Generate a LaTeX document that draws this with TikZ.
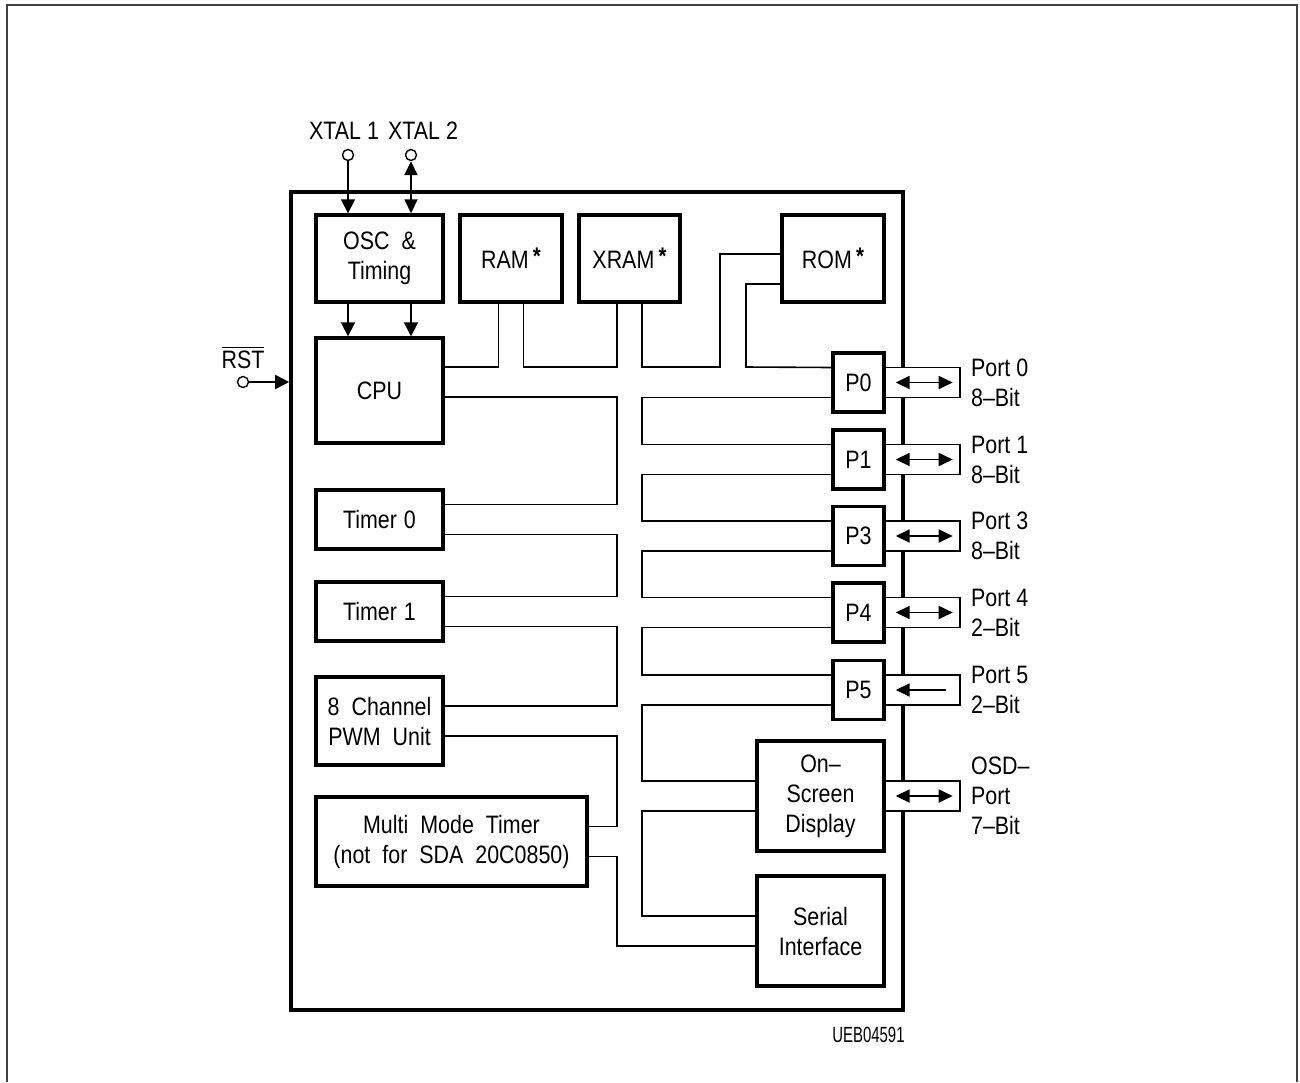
\documentclass[tikz,border=0pt]{standalone}
\usepackage{fontspec}
\setmainfont{Liberation Sans}[FakeStretch=0.85]
\newfontfamily\idfont{Liberation Sans}[FakeStretch=0.68]
\usetikzlibrary{calc}
\usetikzlibrary{arrows.meta}

\newcommand{\memstar}{\raisebox{0.3ex}{\large\textbf{*}}}

\begin{document}
\begin{tikzpicture}[
x=0.5pt, y=-0.5pt,
blk/.style={
  draw,
  line width=1.7pt,
  align=center,
  inner sep=0pt,
  font={\fontsize{12.6}{15}\selectfont\spaceskip=6pt\relax}},
wire/.style={line width=0.8pt},
tip/.style={line width=0.9pt, -{Triangle[length=7pt,width=7pt]}},
tips/.style={line width=0.9pt, {Triangle[length=7pt,width=6.5pt]}-{Triangle[length=7pt,width=6.5pt]}},
pin/.style={
  draw,
  circle,
  fill=white,
  inner sep=0pt,
  minimum size=5.5pt,
  line width=0.7pt},
lbl/.style={inner sep=0pt, align=left, font=\fontsize{12.6}{15}\selectfont}
]
\useasboundingbox (0,0) rectangle (1300,1082);
\draw[black!75, line width=0.8pt] (7,1082) -- (7,5) -- (1297,5) -- (1297,1082);

\node[draw, line width=1.8pt, minimum width=306pt, minimum height=409pt] (chip) at (597,601) {};
\coordinate (busl) at (617,0);
\coordinate (busr) at (642,0);

\node[blk, minimum width=63.5pt, minimum height=43.5pt] (osc) at (379.5,258.5) {OSC \&\\Timing};
\node[blk, minimum width=51pt, minimum height=43.5pt] (ram) at (511,258.5) {RAM\,\memstar};
\node[blk, minimum width=50.5pt, minimum height=43.5pt] (xram) at (629.5,258.5) {XRAM\,\memstar};
\node[blk, minimum width=51pt, minimum height=43.5pt] (rom) at (833,258.5) {ROM\,\memstar};
\node[blk, minimum width=63.5pt, minimum height=52.5pt] (cpu) at (379.5,390.5) {CPU};
\node[blk, minimum width=63.5pt, minimum height=29.5pt] (tim0) at (379.5,519.5) {Timer\hspace{3.5pt}0};
\node[blk, minimum width=63.5pt, minimum height=29.5pt] (tim1) at (379.5,611.5) {Timer\hspace{3.5pt}1};
\node[blk, minimum width=63.5pt, minimum height=44pt] (pwm) at (379.5,721) {8 Channel\\PWM Unit};
\node[blk, minimum width=135.5pt, minimum height=44.5pt] (mmt) at (451.5,841.5)
  {Multi Mode Timer\\(not for SDA 20C0850)};
\node[blk, minimum width=63.5pt, minimum height=55pt] (osd) at (820.5,796) {On--\\Screen\\Display};
\node[blk, minimum width=63.5pt, minimum height=55pt] (ser) at (820.5,931) {Serial\\Interface};
\foreach \n/\y in {0/382.5,1/459.5,3/536,4/612.5,5/690}
  \node[blk, minimum width=25.5pt, minimum height=29.5pt] (p\n) at (858.5,\y) {P\n};

\node[pin] (x1) at (348,155) {};
\node[pin] (x2) at (411,155) {};
\node[lbl, anchor=base] (x1l) at (344,139) {XTAL 1};
\node[lbl, anchor=base] (x2l) at (423,139) {XTAL 2};
\draw[tip] (x1) -- (x1 |- osc.north);
\draw[tips] (x2) -- (x2 |- osc.north);
\foreach \x in {x1,x2}
  \draw[tip] (osc.south -| \x) -- (cpu.north -| \x);

\node[pin] (rst) at (243,382) {};
\node[lbl, anchor=base] (rstl) at (243,368) {$\overline{\hbox{RST}}$};
\draw[tip] (rst) -- (chip.west |- rst);

\draw[wire] (cpu.east |- 0,367) -| ($(ram.south)+(-12.5,0)$);
\draw[wire] ($(ram.south)+(12.5,0)$) |- (busl |- 0,367) -- (busl |- xram.south);
\draw[wire] (busr |- xram.south) |- (720,367) |- (rom.west |- 0,254);
\draw[wire] (rom.west |- 0,284) -| (746,367) -- ($(p0.west)+(0,-15)$);

\draw[wire] (cpu.east |- 0,397) -| ($(busl |- tim0.east)+(0,-15)$) -- ($(tim0.east)+(0,-15)$);
\foreach \a/\b in {tim0/tim1,tim1/pwm,pwm/mmt}
  \draw[wire] ($(\a.east)+(0,15)$) -| ($(busl |- \b.east)+(0,-15)$) -- ($(\b.east)+(0,-15)$);
\draw[wire] ($(ser.west)+(0,15)$) -| ($(busl |- mmt.east)+(0,15)$) -- ($(mmt.east)+(0,15)$);

\foreach \a/\b in {p0/p1,p1/p3,p3/p4,p4/p5,p5/osd,osd/ser}
  \draw[wire] ($(\a.west)+(0,15)$) -| ($(busr |- \b.west)+(0,-15)$) -- ($(\b.west)+(0,-15)$);

\foreach \p in {p0,p1,p3,p4,p5,osd}
  \filldraw[wire, fill=white] ($(\p.east)+(0,-15)$) -- ++(74,0) -- ++(0,30) -- ++(-74,0);
\foreach \p in {p0,p1,p3,p4,osd}
  \draw[tips] ($(\p.east)+(10,0)$) -- ($(\p.east)+(67,0)$);
\draw[line width=0.9pt, {Triangle[length=7pt,width=6.5pt]}-] ($(p5.east)+(10,0)$) -- ($(p5.east)+(60,0)$);

\foreach \p/\t in {p0/{Port 0\\8--Bit},p1/{Port 1\\8--Bit},p3/{Port 3\\8--Bit},
  p4/{Port 4\\2--Bit},p5/{Port 5\\2--Bit},osd/{OSD--\\Port\\7--Bit}}
  \node[lbl, anchor=west] (l\p) at ($(\p.east)+(85,0)$) {\t};

\node[anchor=base east, inner sep=0pt, font=\idfont\fontsize{11}{13}\selectfont] (id) at (905,1042) {UEB04591};
\end{tikzpicture}
\end{document}
